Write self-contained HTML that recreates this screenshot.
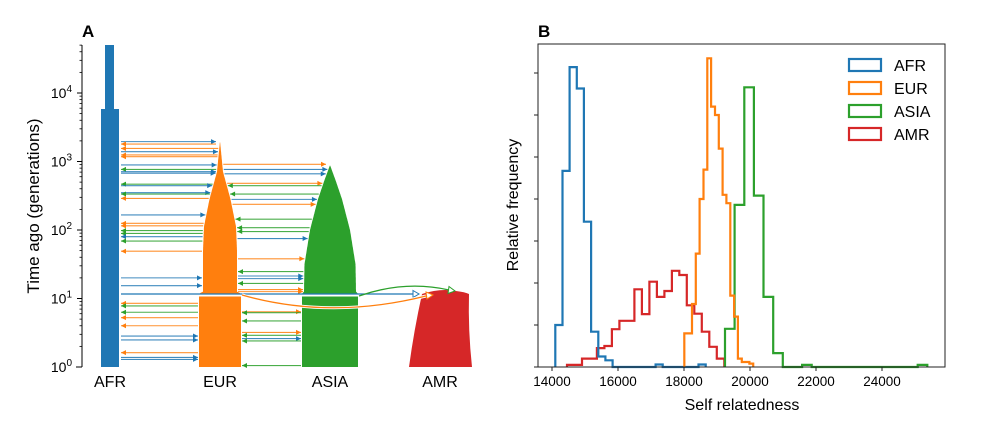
<!DOCTYPE html>
<html><head><meta charset="utf-8">
<style>
html,body{margin:0;padding:0;background:#fff;}
svg{display:block;font-family:"Liberation Sans",Arial,sans-serif;}
</style></head>
<body>
<svg id="fig" width="1000" height="421" viewBox="0 0 1000 421">
  <text x="82" y="37" font-size="17" font-weight="bold">A</text>
  <text x="538" y="37" font-size="17" font-weight="bold">B</text>
  <g id="pa"></g>
  <g id="pb"></g>
</svg>
<script>
// ---------- Panel A data ----------
const popNames = ["AFR","EUR","ASIA","AMR"];
const popCenters = [110,220,330,440];
const yTickExps = [0,1,2,3,4];
// migrations AFR<->EUR: generations, colour, direction (R = toward EUR)
const migAE_gen = [1950,1800,1550,1390,1245,1175,890,767,710,675,467,444,351,335,289,166,125,115,98,89,80,69,49,20,15.4,8.5,7.8,6.3,5.25,4.0,2.83,2.48,1.62,1.38,1.29];
const migAE_col = ["b","o","o","b","o","o","b","g","b","b","g","b","b","g","o","b","o","o","g","g","b","g","o","b","b","o","g","g","o","o","b","b","o","b","b"];
const migAE_dir = ["R","L","L","R","L","L","R","L","R","R","L","R","R","L","L","R","L","L","L","L","L","L","L","R","R","L","L","L","L","L","R","R","L","R","R"];
// migrations EUR<->ASIA
const migEA_gen = [910,767,660,480,444,335,280,237,144,108,95,75,38,24.7,21.3,19.5,16.6,13.5,12.6,6.4,6.2,4.7,3.2,2.9,2.6,2.4,1.05];
const migEA_col = ["o","b","b","o","g","g","b","o","g","g","g","b","o","g","b","b","g","o","o","o","g","g","o","g","b","g","g"];
const migEA_dir = ["R","R","R","R","L","L","R","R","L","L","L","R","R","L","R","R","L","R","R","R","L","L","R","L","R","L","L"];

// ---------- Panel B data ----------
const xTickVals = [14000,16000,18000,20000,22000,24000];
const afrStart = 14100, afrWidth = 217;
const afrFreq = [1.0,4.67,7.14,6.63,3.46,0.84,0.25,0.16,0,0,0,0,0,0,0.06,0,0,0,0,0,0.06];
const eurStart = 18010, eurWidth = 116;
const eurFreq = [0.8,0.8,1.5,2.7,4.0,4.7,7.35,6.2,6.0,5.2,4.1,3.9,1.7,1.2,0.2,0.12,0.12,0.08];
const asiaStart = 19242, asiaWidth = 292;
const asiaFreq = [0.91,3.86,6.66,4.08,1.67,0.33,0,0,0.05,0,0,0,0,0,0,0,0,0,0,0,0.05];
const amrStart = 14454, amrWidth = 227;
const amrFreq = [0.05,0.05,0.2,0.2,0.45,0.5,0.9,1.1,1.1,1.85,1.26,2.03,1.67,1.81,2.29,2.19,1.47,1.27,0.84,0.48,0.2];
const legendLabels = ["AFR","EUR","ASIA","AMR"];

const C = {b:"#1f77b4",o:"#ff7f0e",g:"#2ca02c",r:"#d62728"};
const NS = "http://www.w3.org/2000/svg";
function mk(parent, tag, attrs){const e=document.createElementNS(NS,tag);for(const k in attrs)e.setAttribute(k,attrs[k]);parent.appendChild(e);return e;}

// ---------- Panel A ----------
const pa = document.getElementById("pa");
const yA = g => 367 - 68.5*Math.log10(g);
function interp(tbl, lg){ if(lg<=tbl[0][0])return tbl[0][1]; for(let i=1;i<tbl.length;i++){if(lg<=tbl[i][0]){const a=tbl[i-1],b=tbl[i];return a[1]+(b[1]-a[1])*(lg-a[0])/(b[0]-a[0]);}} return 0;}
const eurTbl=[[0,21],[1.07,21],[1.1,17],[1.7,17],[2.05,16],[2.45,10.5],[2.85,3],[3.3,0]];
const asiaTbl=[[0,28],[1.07,28],[1.1,26],[1.5,25.5],[2.0,20],[2.45,12],[2.75,5],[2.95,0]];

// AFR
let afr = mk(pa,"path",{d:`M101,367 L101,109 L105,109 L105,45 L114,45 L114,109 L119,109 L119,367 Z`,fill:C.b});


function shape(tbl,cx,top,col,name){
  let L=[],R=[];
  for(let lg=0;lg<=top;lg+=0.02){const h=interp(tbl,lg);const y=367-68.5*lg;L.push([cx-h,y]);R.push([cx+h,y]);}
  const pts=L.concat(R.reverse());
  const p=mk(pa,"path",{d:"M"+pts.map(p=>p[0].toFixed(1)+","+p[1].toFixed(1)).join(" L")+" Z",fill:col});
  
  
}
shape(eurTbl,220,3.3,C.o,'eur-population');
shape(asiaTbl,330,2.96,C.g,'asia-population');
let amr = mk(pa,"path",{d:"M409,367 Q414,330 422,294 Q440,288 456,291 Q465,292 469,294 Q468,330 472,367 Z",fill:C.r});


// white gap line
mk(pa,"line",{x1:196,x2:360,y1:295.5,y2:295.5,stroke:"#fff","stroke-width":2});

function arrow(x1,x2,y,col,dir,w){
  const g=mk(pa,"g",{});
  
  
  mk(g,"line",{x1:x1,x2:x2,y1:y,y2:y,stroke:col,"stroke-width":w||1.1,opacity:0.85});
  if(dir==="R") mk(g,"path",{d:`M${x2},${y} l-5,-2.5 l0,5 Z`,fill:col});
  else mk(g,"path",{d:`M${x1},${y} l5,-2.5 l0,5 Z`,fill:col});
}
migAE_gen.forEach((g,i)=>{
  const lg=Math.log10(g),y=yA(g);
  const h=interp(eurTbl,lg);
  const x2 = h>0.5 ? 220-h-1 : 216;
  arrow(121,x2,y,C[migAE_col[i]],migAE_dir[i]);
});
migEA_gen.forEach((g,i)=>{
  const lg=Math.log10(g),y=yA(g);
  const he=interp(eurTbl,lg),ha=interp(asiaTbl,lg);
  const x1 = he>0.5 ? 220+he+1 : 223;
  const x2 = ha>0.5 ? 330-ha-1 : 326;
  arrow(x1,x2,y,C[migEA_col[i]],migEA_dir[i]);
});
// lines to AMR
mk(pa,"line",{x1:121,x2:413,y1:294,y2:294,stroke:C.b,"stroke-width":1.2});
mk(pa,"path",{d:"M413,290.5 L419,294 L413,297.5 Z",fill:"#fff",stroke:C.b,"stroke-width":1});
mk(pa,"path",{d:"M359,296 Q405,280 449,290",fill:"none",stroke:C.g,"stroke-width":1.3});
mk(pa,"path",{d:"M449,286.5 L455,291 L448,293.5 Z",fill:"#fff",stroke:C.g,"stroke-width":1});
mk(pa,"path",{d:"M242,295 Q330,320 426,296",fill:"none",stroke:"#fff","stroke-width":3});
mk(pa,"path",{d:"M242,295 Q330,320 426,296",fill:"none",stroke:C.o,"stroke-width":1.3});
mk(pa,"path",{d:"M426,292 L433,295 L427,299 Z",fill:"#fff",stroke:C.o,"stroke-width":1});

// A axis
const axA=mk(pa,"g",{});


mk(axA,"line",{x1:82,x2:82,y1:45,y2:367,stroke:"#000","stroke-width":1});
yTickExps.forEach(e=>{
  const y=yA(Math.pow(10,e));
  mk(axA,"line",{x1:77,x2:82,y1:y,y2:y,stroke:"#000"});
  const t=mk(axA,"text",{x:72,y:y+5,"text-anchor":"end","font-size":14});
  
  
  t.innerHTML=`10<tspan dy="-6" font-size="10">${e}</tspan>`;
  for(let k=2;k<=9;k++){const v=Math.pow(10,e)*k;const yy=yA(v);if(yy<45)break;mk(axA,"line",{x1:79.5,x2:82,y1:yy,y2:yy,stroke:"#000","stroke-width":0.8});}
});
mk(axA,"line",{x1:82,x2:300,y1:367,y2:367,stroke:"none"});
const ylabA=mk(pa,"text",{x:0,y:0,"font-size":17,"text-anchor":"middle",transform:"translate(39,206) rotate(-90)"});


ylabA.textContent="Time ago (generations)";
mk(pa,"line",{x1:76,x2:82,y1:367,y2:367,stroke:"#000"});
popNames.forEach((n,i)=>{
  const t=mk(pa,"text",{x:popCenters[i],y:387,"text-anchor":"middle","font-size":16});
  
  
  t.textContent=n;
});

// ---------- Panel B ----------
const pb=document.getElementById("pb");
const xB=v=>552+(v-14000)*0.033;
const yB=f=>367-f*42;
function hist(start,width,freq,col,name){
  let d=`M${xB(start)},${yB(0)}`;
  freq.forEach((f,i)=>{d+=` L${xB(start+i*width).toFixed(1)},${yB(f).toFixed(1)} L${xB(start+(i+1)*width).toFixed(1)},${yB(f).toFixed(1)}`;});
  d+=` L${xB(start+freq.length*width).toFixed(1)},${yB(0)}`;
  const p=mk(pb,"path",{d:d,fill:"none",stroke:col,"stroke-width":2.2,"stroke-linejoin":"miter"});
  
  
}
hist(amrStart,amrWidth,amrFreq,C.r,'hist-amr');
hist(afrStart,afrWidth,afrFreq,C.b,'hist-afr');
hist(asiaStart,asiaWidth,asiaFreq,C.g,'hist-asia');
hist(eurStart,eurWidth,eurFreq,C.o,'hist-eur');
const frame=mk(pb,"rect",{x:538,y:44,width:407,height:323,fill:"none",stroke:"#222","stroke-width":1});


for(let k=0;k<=7;k++){mk(pb,"line",{x1:534,x2:538,y1:yB(k),y2:yB(k),stroke:"#222"});}
xTickVals.forEach(v=>{
  mk(pb,"line",{x1:xB(v),x2:xB(v),y1:367,y2:371,stroke:"#222"});
  const t=mk(pb,"text",{x:xB(v),y:386,"text-anchor":"middle","font-size":13.5});
  
  
  t.textContent=v;
});
const xl=mk(pb,"text",{x:742,y:410,"text-anchor":"middle","font-size":16});


xl.textContent="Self relatedness";
const yl=mk(pb,"text",{x:0,y:0,"text-anchor":"middle","font-size":16,transform:"translate(518,205) rotate(-90)"});


yl.textContent="Relative frequency";
const legCols=[C.b,C.o,C.g,C.r];
legendLabels.forEach((l,i)=>{
  const cy=65+i*23;
  const g=mk(pb,"g",{});
  
  
  mk(g,"rect",{x:849,y:cy-6,width:32,height:12,fill:"none",stroke:legCols[i],"stroke-width":2.2});
  const t=mk(g,"text",{x:894,y:cy+6,"font-size":16});
  t.textContent=l;
});
</script>
</body></html>
